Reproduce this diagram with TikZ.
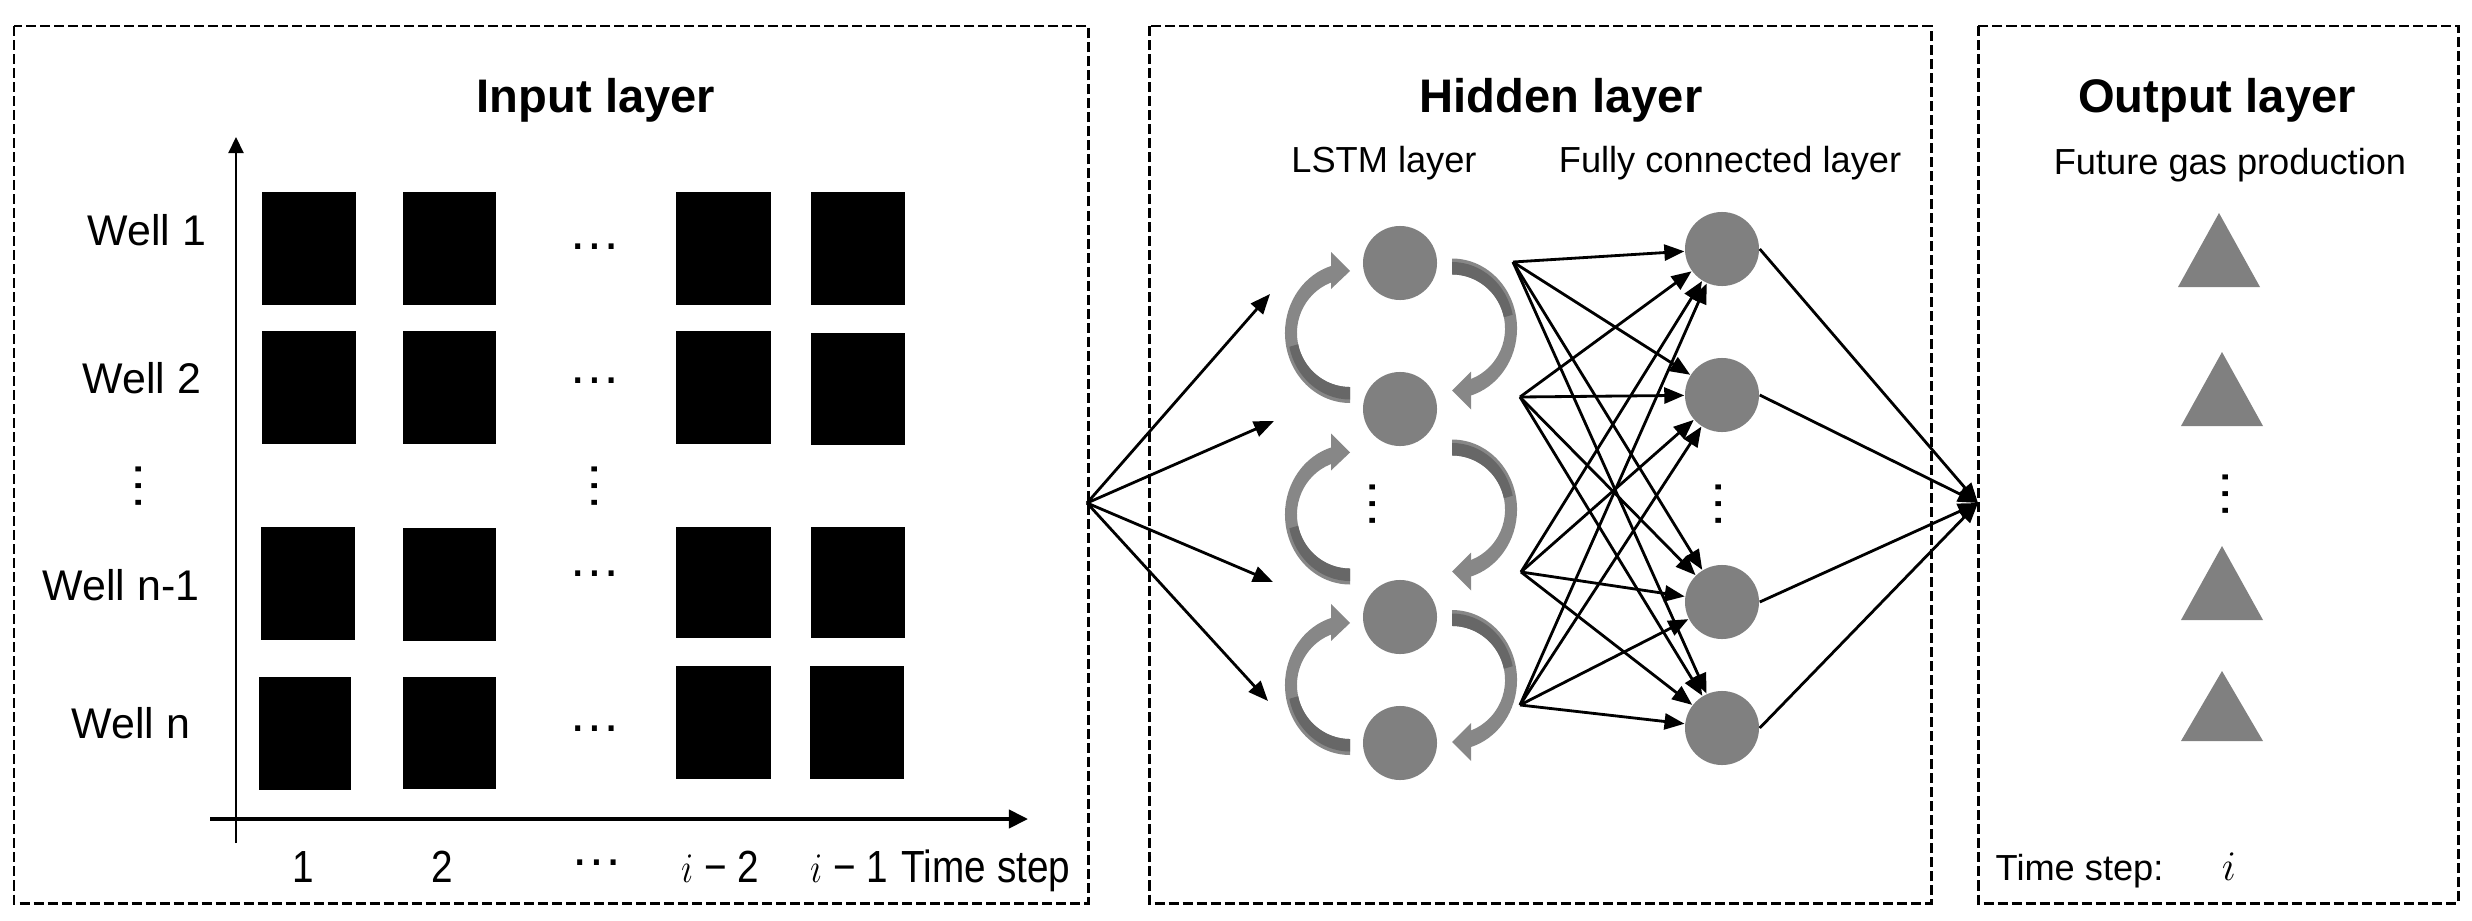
\documentclass[tikz,border=0pt]{standalone}
\usepackage{fontspec}
\usepackage{graphicx}
\setmainfont{Liberation Sans}
\usetikzlibrary{arrows.meta,calc}
\definecolor{nodegray}{HTML}{808080}
\definecolor{ribbonlight}{HTML}{878787}
\definecolor{ribbondark}{HTML}{676767}
\newcommand{\narrow}[1]{\scalebox{0.86}[1]{#1}}
\begin{document}
\begin{tikzpicture}[x=0.01cm,y=-0.01cm,
  panel/.style={draw=black, line width=0.85pt, dash pattern=on 0.1cm off 0.04cm},
  cell/.style={fill=black},
  unit/.style={circle, fill=nodegray, minimum size=0.74cm, inner sep=0pt, draw=none},
  tri/.style={fill=nodegray},
  arr/.style={line width=0.8pt, -{Triangle[length=0.2cm,width=0.16cm]}},
  ribbon/.style={fill=ribbonlight},
  ribbonshade/.style={fill=ribbondark},
  title/.style={font=\fontsize{13.4pt}{16pt}\selectfont\bfseries, anchor=base, inner sep=0pt},
  sub/.style={font=\fontsize{10.3pt}{12pt}\selectfont, anchor=base, inner sep=0pt},
  well/.style={font=\fontsize{12.2pt}{14pt}\selectfont, anchor=base, inner sep=0pt},
  axislabel/.style={font=\fontsize{12.8pt}{15pt}\selectfont, anchor=base, inner sep=0pt},
  dots/.style={font=\fontsize{15pt}{18pt}\selectfont, inner sep=0pt}
]
\useasboundingbox (0,0) rectangle (2472,921);

% panels
\draw[panel] (14,26) rectangle (1088,903);
\draw[panel] (1149,26) rectangle (1931,903);
\draw[panel] (1978,26) rectangle (2458,903);

% titles
\node[title] (tin) at (596,113) {Input layer};
\node[title] (thid) at (1561,113) {Hidden layer};
\node[title] (tout) at (2217,112) {Output layer};
\node[sub] (tlstm) at (1384,172) {LSTM layer};
\node[sub] (tfc) at (1730,172) {Fully connected layer};
\node[sub] (tfut) at (2230,174) {Future gas production};

% axes
\coordinate (yb) at (236,843);
\coordinate (yt) at (236,137);
\coordinate (xl) at (210,819);
\coordinate (xr) at (1028,819);
\draw[line width=0.6pt, -{Triangle[length=0.16cm,width=0.15cm]}] (yb) -- (yt);
\draw[line width=1.1pt, -{Triangle[length=0.19cm,width=0.18cm]}] (xl) -- (xr);

% well labels
\node[well] (w1) at (147,245) {Well 1};
\node[well] (w2) at (142,393) {Well 2};
\node[dots, rotate=90] (wd) at (139,486) {…};
\node[well] (wn1) at (121,600) {Well n-1};
\node[well] (wn) at (131,738) {Well n};

% data cells
\fill[cell] (262,192) rectangle (356,305);
\fill[cell] (403,192) rectangle (496,305);
\fill[cell] (676,192) rectangle (771,305);
\fill[cell] (811,192) rectangle (905,305);
\fill[cell] (262,331) rectangle (356,444);
\fill[cell] (403,331) rectangle (496,444);
\fill[cell] (676,331) rectangle (771,444);
\fill[cell] (811,333) rectangle (905,445);
\fill[cell] (261,527) rectangle (355,640);
\fill[cell] (403,528) rectangle (496,641);
\fill[cell] (676,527) rectangle (771,638);
\fill[cell] (811,527) rectangle (905,638);
\fill[cell] (259,677) rectangle (351,790);
\fill[cell] (403,677) rectangle (496,789);
\fill[cell] (676,666) rectangle (771,779);
\fill[cell] (810,666) rectangle (904,779);

% grid dots
\node[dots] (gd1) at (595,247) {…};
\node[dots] (gd2) at (595,381) {…};
\node[dots, rotate=90] (gdv) at (595,486) {…};
\node[dots] (gd3) at (595,574) {…};
\node[dots] (gd4) at (595,729) {…};

% time axis labels
\node[axislabel] (l1) at (303,882) {\narrow{1}};
\node[axislabel] (l2) at (442,882) {\narrow{2}};
\node[dots] (ld) at (597,863) {…};
\node[axislabel] (li2) at (720,882) {\narrow{$i$ − 2}};
\node[axislabel] (li1) at (849,882) {\narrow{$i$ − 1}};
\node[axislabel] (lts) at (986,882) {\narrow{Time step}};

% recurrent ribbons (left): from lower unit up to upper unit
\foreach \cy in {333,514.5,685} {
  \fill[ribbon] (1350,\cy+70) arc[start angle=270,end angle=106,x radius=0.65cm,y radius=0.70cm]
    -- ($(1350,\cy)+(106:0.53cm and 0.54cm)$)
    arc[start angle=106,end angle=270,x radius=0.53cm,y radius=0.54cm] -- cycle;
  \fill[ribbonshade] (1350,\cy+66.5) arc[start angle=270,end angle=192,x radius=0.62cm,y radius=0.665cm]
    -- ($(1350,\cy)+(192:0.53cm and 0.54cm)$)
    arc[start angle=192,end angle=270,x radius=0.53cm,y radius=0.54cm] -- cycle;
  \fill[ribbon] (1350,\cy-62) -- (1331,\cy-81) -- (1331,\cy-44) -- cycle;
}
% recurrent ribbons (right): from upper unit down to lower unit
\foreach \cy in {328.5,509.5,680} {
  \fill[ribbon] (1452,\cy-70) arc[start angle=90,end angle=-74,x radius=0.65cm,y radius=0.70cm]
    -- ($(1452,\cy)+(-74:0.53cm and 0.54cm)$)
    arc[start angle=-74,end angle=90,x radius=0.53cm,y radius=0.54cm] -- cycle;
  \fill[ribbonshade] (1452,\cy-66.5) arc[start angle=90,end angle=12,x radius=0.62cm,y radius=0.665cm]
    -- ($(1452,\cy)+(12:0.53cm and 0.54cm)$)
    arc[start angle=12,end angle=90,x radius=0.53cm,y radius=0.54cm] -- cycle;
  \fill[ribbon] (1452,\cy+62) -- (1471,\cy+43) -- (1471,\cy+81) -- cycle;
}

% LSTM units
\node[unit] (c1) at (1400,263) {};
\node[unit] (c2) at (1400,409) {};
\node[dots, rotate=90] (cd) at (1373,504) {…};
\node[unit] (c3) at (1400,617) {};
\node[unit] (c4) at (1400,743) {};

% FC units
\node[unit] (f1) at (1722,249) {};
\node[unit] (f2) at (1722,395) {};
\node[dots, rotate=90] (fd) at (1719,504) {…};
\node[unit] (f3) at (1722,602) {};
\node[unit] (f4) at (1722,728) {};

% fan from input layer
\coordinate (apex) at (1087,503);
\coordinate (in1) at (1270,294);
\coordinate (in2) at (1274,421);
\coordinate (in3) at (1273,582);
\coordinate (in4) at (1268,701);
\foreach \t in {in1,in2,in3,in4} \draw[arr] (apex) -- (\t);

% LSTM outputs to FC
\coordinate (s1) at (1513,262);
\coordinate (s2) at (1520,397);
\coordinate (s3) at (1521,572);
\coordinate (s4) at (1520,705);
\foreach \s in {s1,s2,s3,s4}
  \foreach \f in {f1,f2,f3,f4}
    \draw[arr] (\s) -- (\f);

% FC to output
\coordinate (out) at (1978,503);
\foreach \f in {f1,f2,f3,f4} \draw[arr] (\f.east) -- (out);

% output triangles
\fill[tri] (2178,287) -- (2219,213) -- (2260,287) -- cycle;
\fill[tri] (2181,426) -- (2222,352) -- (2263,426) -- cycle;
\node[dots, rotate=90] (od) at (2226,494) {…};
\fill[tri] (2181,620) -- (2222,546) -- (2263,620) -- cycle;
\fill[tri] (2181,741) -- (2222,671) -- (2263,741) -- cycle;

\node[sub, anchor=base west] (ots) at (1995,880) {Time step:};
\node[sub, font=\fontsize{12.5pt}{15pt}\selectfont] (oi) at (2229,880) {$i$};
\end{tikzpicture}
\end{document}
